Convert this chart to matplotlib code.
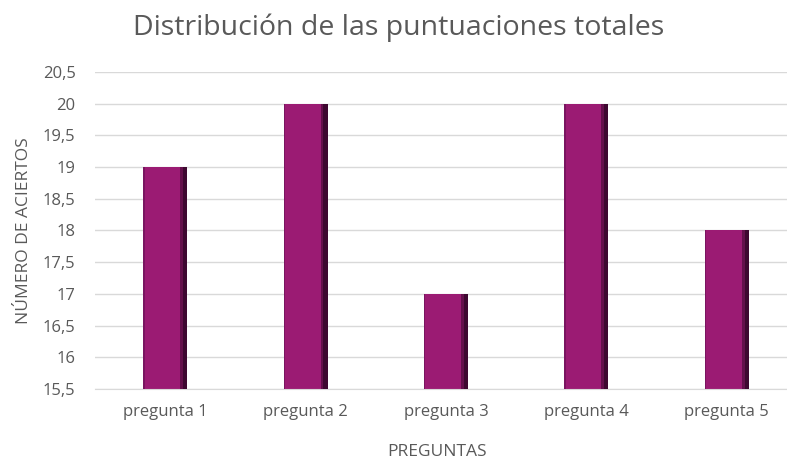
import numpy as np
import matplotlib.pyplot as plt
from matplotlib.ticker import FuncFormatter

categorias = ['pregunta 1', 'pregunta 2', 'pregunta 3', 'pregunta 4', 'pregunta 5']
aciertos = [19, 20, 17, 20, 18]
y_min, y_max, y_step = 15.5, 20.5, 0.5

plt.rcParams['font.family'] = ['Open Sans', 'DejaVu Sans']
gris = '#595959'

fig = plt.figure(figsize=(7.87, 4.61), dpi=100)
ax = fig.add_axes([95 / 787, 0.156, 702 / 787, 0.688])

x = np.arange(len(categorias))
alto = np.array(aciertos) - y_min
w = 0.313
ax.bar(x, alto, bottom=y_min, width=w, color='#9B1B73', zorder=2)
# darker right edge for the bevel look
ax.bar(x + w / 2 - 0.015, alto, bottom=y_min, width=0.03, color='#3E0830', zorder=3)
ax.bar(x + w / 2 - 0.04, alto, bottom=y_min, width=0.02, color='#64104B', zorder=3)
ax.bar(x - w / 2 + 0.005, alto, bottom=y_min, width=0.01, color='#7A1560', zorder=3)

ax.set_ylim(y_min, y_max)
ax.set_xlim(-0.5, len(categorias) - 0.5)
ax.set_yticks(np.arange(y_min, y_max + 0.01, y_step))
ax.yaxis.set_major_formatter(FuncFormatter(lambda v, p: ('%g' % v).replace('.', ',')))
ax.set_xticks(x)
ax.set_xticklabels(categorias)
ax.grid(axis='y', color='#D9D9D9', linewidth=1, zorder=0)
for s in ['top', 'right', 'left']:
    ax.spines[s].set_visible(False)
ax.spines['bottom'].set_color('#D9D9D9')
ax.tick_params(axis='both', length=0, colors=gris, labelsize=12)
ax.tick_params(axis='y', pad=14)
ax.tick_params(axis='x', pad=11)

fig.text(399 / 787, 1 - 28 / 461, 'Distribución de las puntuaciones totales',
         fontsize=20.5, color=gris, ha='center', va='center')
fig.text(437 / 787, 1 - 452 / 461, 'PREGUNTAS', fontsize=12.5, color=gris,
         ha='center', va='center')
ax.set_ylabel('NÚMERO DE ACIERTOS', fontsize=12.5, color=gris, labelpad=8)

fig.savefig('out.png', dpi=100)
